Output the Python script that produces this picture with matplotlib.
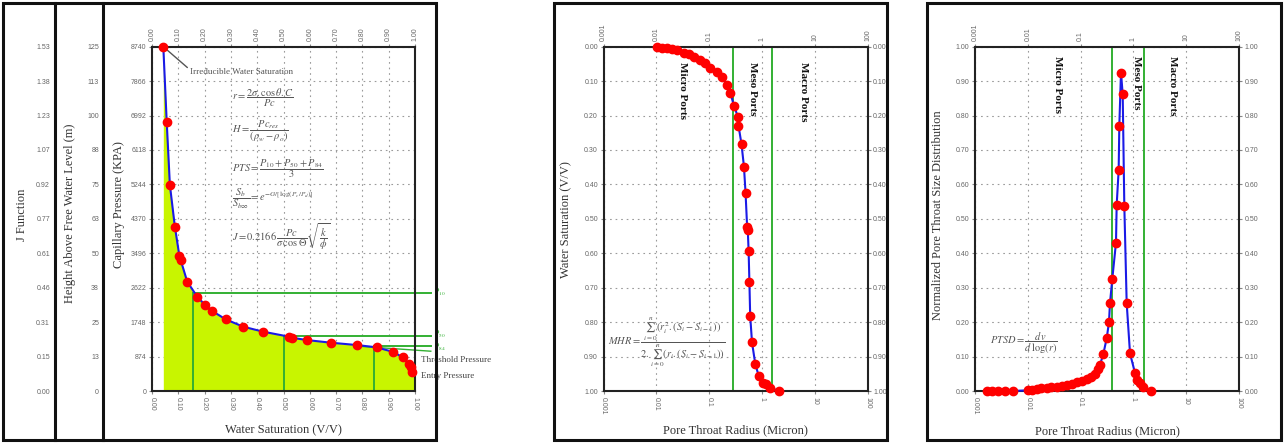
import matplotlib.pyplot as plt
from matplotlib.patches import Rectangle
from matplotlib.lines import Line2D

plt.rcParams['font.family'] = 'Liberation Sans'
plt.rcParams['mathtext.fontset'] = 'stix'

W, H = 1285, 446

# capillary pressure curve (water saturation vs Pc in KPA)
sw_pc = [0.043, 0.056, 0.068, 0.087, 0.104, 0.109, 0.134, 0.172, 0.203, 0.227, 0.280, 0.347,
         0.423, 0.522, 0.531, 0.588, 0.680, 0.778, 0.854, 0.918, 0.953, 0.977, 0.984, 0.990]
pc_kpa = [8740, 6820, 5228, 4170, 3434, 3325, 2774, 2393, 2175, 2038, 1820, 1632,
          1505, 1378, 1353, 1294, 1226, 1167, 1109, 990, 855, 685, 617, 490]
pc_ticks = [0, 874, 1748, 2622, 3496, 4370, 5244, 6118, 6992, 7866, 8740]
height_labels = ['0', '13', '25', '38', '50', '63', '75', '88', '100', '113', '125']
j_labels = ['0.00', '0.15', '0.31', '0.46', '0.61', '0.77', '0.92', '1.07', '1.23', '1.38', '1.53']
sw_ticks = [0.0, 0.1, 0.2, 0.3, 0.4, 0.5, 0.6, 0.7, 0.8, 0.9, 1.0]

# percentile pressures P10, P50, P84
pct_sw = [0.157, 0.50, 0.845]
pct_pc = [2495, 1403, 1142]
pct_labels = [r'$\mathrm{P}_{10}$', r'$\mathrm{P}_{50}$', r'$\mathrm{P}_{84}$']

# water saturation vs pore throat radius
radius_sw = [0.0103, 0.0128, 0.0159, 0.0198, 0.0247, 0.033, 0.041, 0.051, 0.068, 0.085, 0.106,
             0.141, 0.176, 0.219, 0.254, 0.295, 0.355, 0.36, 0.411, 0.457, 0.49, 0.525, 0.54,
             0.56, 0.58, 0.60, 0.65, 0.75, 0.87, 1.04, 1.17, 1.41, 2.1]
sw_radius = [0.000, 0.003, 0.005, 0.008, 0.010, 0.017, 0.022, 0.031, 0.039, 0.048, 0.063,
             0.073, 0.087, 0.111, 0.134, 0.172, 0.205, 0.229, 0.283, 0.348, 0.424, 0.523, 0.532,
             0.592, 0.684, 0.782, 0.859, 0.922, 0.956, 0.976, 0.981, 0.990, 1.000]

# normalized pore throat size distribution
radius_ptsd = [0.00166, 0.0021, 0.0027, 0.0037, 0.0052, 0.0102, 0.0118, 0.0147, 0.018, 0.0227,
               0.028, 0.035, 0.044, 0.055, 0.068, 0.085, 0.105, 0.130, 0.160, 0.188, 0.216,
               0.233, 0.269, 0.312, 0.345, 0.360, 0.398, 0.468, 0.482, 0.526, 0.541, 0.582,
               0.627, 0.673, 0.746, 0.863, 1.07, 1.15, 1.33, 1.50, 2.15]
ptsd = [0, 0, 0, 0, 0, 0.002, 0.004, 0.006, 0.008, 0.009,
        0.011, 0.013, 0.015, 0.018, 0.021, 0.025, 0.029, 0.034, 0.041, 0.050, 0.064,
        0.076, 0.107, 0.153, 0.200, 0.255, 0.325, 0.431, 0.540, 0.642, 0.770, 0.925,
        0.862, 0.538, 0.255, 0.109, 0.053, 0.032, 0.022, 0.013, 0.0]

radius_ticks = [0.001, 0.01, 0.1, 1, 10, 100]
radius_labels = ['0.001', '0.01', '0.1', '1', '10', '100']
frac_ticks = [0.0, 0.1, 0.2, 0.3, 0.4, 0.5, 0.6, 0.7, 0.8, 0.9, 1.0]
frac_labels = ['%.2f' % v for v in frac_ticks]
port_names = ['Micro Ports', 'Meso Ports', 'Macro Ports']

GREEN = '#33b033'
BLUE = '#1a1ae6'
FILL = '#c8f500'
TICKC = '#666666'
LABC = '#333333'
SERIF = 'Liberation Serif'


def fx(px):
    return px / W


def fy(py):
    return 1 - py / H


def box(l, t, r, b):  # pixel box -> figure rect
    return [fx(l), fy(b), fx(r) - fx(l), fy(t) - fy(b)]


def frame(l, t, r, b):
    fig.add_artist(Rectangle((fx(l), fy(b)), fx(r) - fx(l), fy(t) - fy(b), transform=fig.transFigure,
                             fill=False, lw=2.2, ec='#111111', zorder=10))


def vline(px, t, b):
    fig.add_artist(Line2D([fx(px), fx(px)], [fy(t), fy(b)], transform=fig.transFigure,
                          color='#111111', lw=2.2, zorder=10))


def style(ax, top_labels):
    for s in ax.spines.values():
        s.set_linewidth(1.5)
        s.set_color('#222222')
    ax.tick_params(length=2, color='#888888', labelsize=5, labelcolor=TICKC, pad=2)
    ax.tick_params(axis='x', labelrotation=270)
    ax.grid(True, color='#9a9a9a', linestyle=(0, (1.5, 3.5)), lw=0.8)
    ax.set_axisbelow(True)
    top = ax.secondary_xaxis('top')
    top.set_xticks(top_labels[0], top_labels[1])
    top.xaxis.set_minor_locator(plt.NullLocator())
    top.tick_params(length=2, color='#888888', labelsize=5, labelcolor=TICKC, pad=2, labelrotation=90)
    top.tick_params(which='minor', length=0)
    for s in top.spines.values():
        s.set_visible(False)


def label(px, py, txt, rot=0):
    fig.text(fx(px), fy(py), txt, rotation=rot, ha='center', va='center', family=SERIF,
             fontsize=9, color=LABC)


fig = plt.figure(figsize=(W / 100, H / 100), dpi=100)

# ---------------- panel 1: capillary pressure ----------------
ax1 = fig.add_axes(box(152, 46.7, 415, 391))
ax1.fill_between(sw_pc + [1.0], pc_kpa + [pc_kpa[-1]], color=FILL, lw=0, zorder=1)
for sw, pc in zip(pct_sw, pct_pc):
    ax1.plot([sw, sw], [0, pc], color=GREEN, lw=1.4, zorder=2)
    ax1.plot([sw, 1.06], [pc, pc], color=GREEN, lw=1.4, zorder=2, clip_on=False)
ax1.plot([0.80, 1.06], [1130, 1010], color=GREEN, lw=1.0, zorder=2, clip_on=False)
for pc, lab, dy in zip(pct_pc, pct_labels, [0, 40, -30]):
    ax1.text(1.072, pc + dy, lab, va='center', ha='left', fontsize=5.5, color=GREEN, clip_on=False)
ax1.text(1.023, 787, 'Threshold Pressure', va='center', ha='left', family=SERIF, fontsize=6.5,
         color='#444444', clip_on=False)
ax1.text(1.023, 381, 'Entry Pressure', va='center', ha='left', family=SERIF, fontsize=6.5,
         color='#444444', clip_on=False)
ax1.plot(sw_pc, pc_kpa, color=BLUE, lw=1.5, marker='o', ms=6, mfc='red', mec='red', zorder=5,
         clip_on=False)
ax1.annotate('Irreducible Water Saturation', (sw_pc[0], pc_kpa[0]), xytext=(0.145, 8089),
             va='center', ha='left', family=SERIF, fontsize=6.5, color='#555555',
             arrowprops=dict(arrowstyle='-', color='#555555', lw=1, shrinkA=0, shrinkB=2,
                             relpos=(0, 0.8)))

# formulas
fcol = '#555555'
fs = 7.5
ax1.text(0.305, 7436, r'$r=\dfrac{2\sigma.\cos\theta.C}{Pc}$', fontsize=fs, color=fcol, va='center')
ax1.text(0.305, 6600, r'$H=\dfrac{Pc_{res}}{(\rho_w-\rho_o)}$', fontsize=fs, color=fcol, va='center')
ax1.text(0.305, 5640, r'$PTS=\dfrac{P_{10}+P_{50}+P_{84}}{3}$', fontsize=fs, color=fcol, va='center')
ax1.text(0.305, 4880, r'$\dfrac{S_b}{S_{b\infty}}=e^{-G/[\log(P_c/P_d)]}$', fontsize=fs, color=fcol,
         va='center')
ax1.text(0.305, 3900, r'$J=0.2166\,\dfrac{Pc}{\sigma\,\cos\Theta}\sqrt{\dfrac{k}{\phi}}$', fontsize=fs,
         color=fcol, va='center')

ax1.set_xlim(0, 1)
ax1.set_ylim(0, 8740)
ax1.set_xticks(sw_ticks, ['%.2f' % v for v in sw_ticks])
ax1.set_yticks(pc_ticks, [str(v) for v in pc_ticks])
style(ax1, (sw_ticks, ['%.2f' % v for v in sw_ticks]))

# J function and height columns
for left, labs in [(50, j_labels), (99, height_labels)]:
    axs = fig.add_axes(box(left, 46.7, left + 2, 391))
    axs.set_ylim(0, 8740)
    axs.set_yticks(pc_ticks, labs)
    axs.set_xticks([])
    axs.tick_params(length=0, labelsize=5, labelcolor=TICKC, pad=0)
    for s in axs.spines.values():
        s.set_visible(False)
    axs.patch.set_visible(False)

label(22, 215, 'J Function', 90)
label(70, 213, 'Height Above Free Water Level (m)', 90)
label(119, 205, 'Capillary Pressure (KPA)', 90)
label(283, 430, 'Water Saturation (V/V)')

frame(3, 3, 436, 440)
vline(55, 3, 440)
vline(103, 3, 440)

# ---------------- panel 2: saturation vs radius ----------------
ax2 = fig.add_axes(box(603.5, 46.7, 867.5, 391))
ax2.set_xscale('log')
ax2.set_xlim(0.001, 100)
ax2.set_ylim(1.0, 0.0)
ax2.axvline(0.286, color=GREEN, lw=1.4, zorder=2)
ax2.axvline(1.58, color=GREEN, lw=1.4, zorder=2)
ax2.plot(radius_sw, sw_radius, color=BLUE, lw=1.5, marker='o', ms=6, mfc='red', mec='red',
         zorder=5, clip_on=False)
for x, name in zip([0.032, 0.66, 6.2], port_names):
    ax2.text(x, 0.044, name, rotation=270, ha='center', va='top', family=SERIF, fontsize=8,
             fontweight='bold', color='#111111')
ax2.text(0.00122, 0.857,
         r'$MHR=\dfrac{\sum_{i=0}^{n}(r_i^2.(S_i-S_{i-1}))}{2.\sum_{i=0}^{n}(r_i.(S_i-S_{i-1}))}$',
         fontsize=7.5, color=fcol, va='center', ha='left')
ax2.set_xticks(radius_ticks, radius_labels)
ax2.xaxis.set_minor_locator(plt.NullLocator())
ax2.set_yticks(frac_ticks, frac_labels)
ax2.tick_params(axis='y', right=True, labelright=True)
style(ax2, (radius_ticks, radius_labels))

label(566, 220, 'Water Saturation (V/V)', 90)
label(735, 430, 'Pore Throat Radius (Micron)')
frame(554, 3, 887, 440)

# ---------------- panel 3: pore throat size distribution ----------------
ax3 = fig.add_axes(box(975, 46.7, 1239, 391))
ax3.set_xscale('log')
ax3.set_xlim(0.001, 100)
ax3.set_ylim(0.0, 1.0)
ax3.axvline(0.40, color=GREEN, lw=1.4, zorder=2)
ax3.axvline(1.59, color=GREEN, lw=1.4, zorder=2)
ax3.plot(radius_ptsd, ptsd, color=BLUE, lw=1.5, marker='o', ms=6, mfc='red', mec='red',
         zorder=5, clip_on=False)
for x, name in zip([0.037, 1.16, 5.6], port_names):
    ax3.text(x, 0.972, name, rotation=270, ha='center', va='top', family=SERIF, fontsize=8,
             fontweight='bold', color='#111111')
ax3.text(0.00192, 0.139, r'$PTSD=\dfrac{dv}{d\,\log(r)}$', fontsize=7.5, color=fcol, va='center',
         ha='left')
ax3.set_xticks(radius_ticks, radius_labels)
ax3.xaxis.set_minor_locator(plt.NullLocator())
ax3.set_yticks(frac_ticks, frac_labels)
ax3.tick_params(axis='y', right=True, labelright=True)
style(ax3, (radius_ticks, radius_labels))

label(938, 215, 'Normalized Pore Throat Size Distribution', 90)
label(1107, 431, 'Pore Throat Radius (Micron)')
frame(927, 3, 1281, 440)

fig.savefig('out.png', dpi=100)
